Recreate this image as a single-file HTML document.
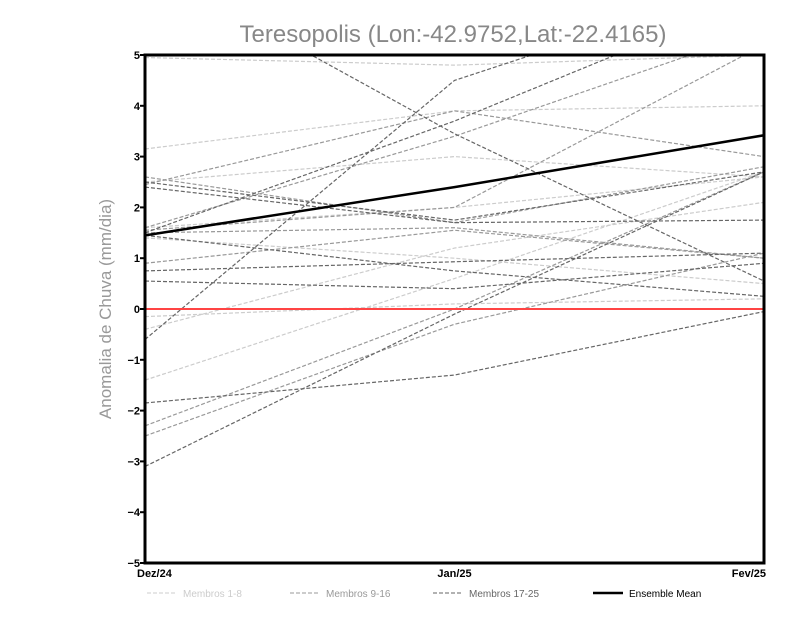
<!DOCTYPE html>
<html><head><meta charset="utf-8"><style>
body{margin:0;background:#fff;}
svg{display:block;font-family:"Liberation Sans",sans-serif;}
</style></head><body>
<svg id="chart" width="800" height="618">
<defs><clipPath id="pc"><rect x="145" y="55" width="619" height="508"/></clipPath></defs>
<text x="453" y="42" text-anchor="middle" font-size="24" fill="#888">Teresopolis (Lon:-42.9752,Lat:-22.4165)</text>
<text transform="translate(111,309) rotate(-90)" text-anchor="middle" font-size="17" fill="#999">Anomalia de Chuva (mm/dia)</text>
<g id="lines" clip-path="url(#pc)"></g>
<g id="axes"></g>
<g id="legend"></g>
</svg>
<script>
const categories=["Dez/24","Jan/25","Fev/25"];
const yTicks=[-5,-4,-3,-2,-1,0,1,2,3,4,5];
const members1=[[3.15,3.9,4.0],[4.95,4.8,5.0],[2.5,3.0,2.6],[1.4,1.0,0.5],[-0.15,0.1,0.2],[-0.4,1.2,2.1],[-1.4,0.6,2.7],[1.6,2.0,2.6]];
const members2=[[1.6,3.4,5.5],[2.6,1.7,2.8],[0.9,1.55,1.0],[-2.3,0.0,2.7],[-2.5,-0.3,1.1],[1.5,1.6,1.0],[2.45,3.9,3.0],[1.55,2.0,5.2]];
const members3=[[2.4,1.7,1.75],[6.8,3.45,0.55],[0.75,0.93,1.1],[0.55,0.4,0.9],[-0.6,4.5,6.5],[-3.1,-0.1,2.7],[-1.85,-1.3,-0.05],[1.5,3.7,6.2],[1.45,0.75,0.25],[2.5,1.75,2.7]];
const ensembleMean=[1.45,2.4,3.42];
const NS="http://www.w3.org/2000/svg";
const x0=145,x1=764,y0=55,y1=563;
const xs=i=>x0+i*(x1-x0)/(categories.length-1);
const ys=v=>y0+(5-v)*(y1-y0)/10;
function mk(t,a,p){const e=document.createElementNS(NS,t);for(const k in a)e.setAttribute(k,a[k]);p.appendChild(e);return e;}
const L=document.getElementById('lines'),A=document.getElementById('axes'),G=document.getElementById('legend');
function poly(vals,col,w,dash,name){const e=mk('polyline',{points:vals.map((v,i)=>xs(i)+','+ys(v)).join(' '),fill:'none',stroke:col,'stroke-width':w,'stroke-dasharray':dash},L);

}
members1.forEach((m,i)=>poly(m,'#ccc',1.2,'4,2','member-line-1-8'));
members2.forEach((m,i)=>poly(m,'#999',1.2,'4,2','member-line-9-16'));
members3.forEach((m,i)=>poly(m,'#666',1.2,'4,2','member-line-17-25'));
const z=mk('line',{x1:x0,x2:x1,y1:ys(0),y2:ys(0),stroke:'#f44','stroke-width':2},L);


poly(ensembleMean,'#000',2.5,'none','ensemble-mean-line');
const fr=mk('rect',{x:x0,y:y0,width:x1-x0,height:y1-y0,fill:'none',stroke:'#000','stroke-width':3},A);


yTicks.forEach(t=>{mk('line',{x1:x0-5,x2:x0,y1:ys(t),y2:ys(t),stroke:'#000','stroke-width':2},A);
const tx=mk('text',{x:x0-5,y:ys(t)+4,'text-anchor':'end','font-size':11,'font-weight':'bold'},A);tx.textContent=t<0?'−'+(-t):t;

});
categories.forEach((c,i)=>{const anc=i==0?'start':i==2?'end':'middle';
const tx=mk('text',{x:xs(i)+(i==0?-8:i==2?2:0),y:577,'text-anchor':anc,'font-size':11,'font-weight':'bold'},A);tx.textContent=c;

});
const leg=[['Membros 1-8','#ccc',1,'4,2',147],['Membros 9-16','#999',1,'4,2',290],['Membros 17-25','#666',1,'4,2',433],['Ensemble Mean','#000',2.5,'none',593]];
leg.forEach(l=>{const g=mk('g',{},G);


mk('line',{x1:l[4],x2:l[4]+30,y1:593,y2:593,stroke:l[1],'stroke-width':l[2],'stroke-dasharray':l[3]},g);
const t=mk('text',{x:l[4]+36,y:597,'font-size':10,fill:l[1]=='#000'?'#000':l[1]},g);t.textContent=l[0];});
</script>
</body></html>
